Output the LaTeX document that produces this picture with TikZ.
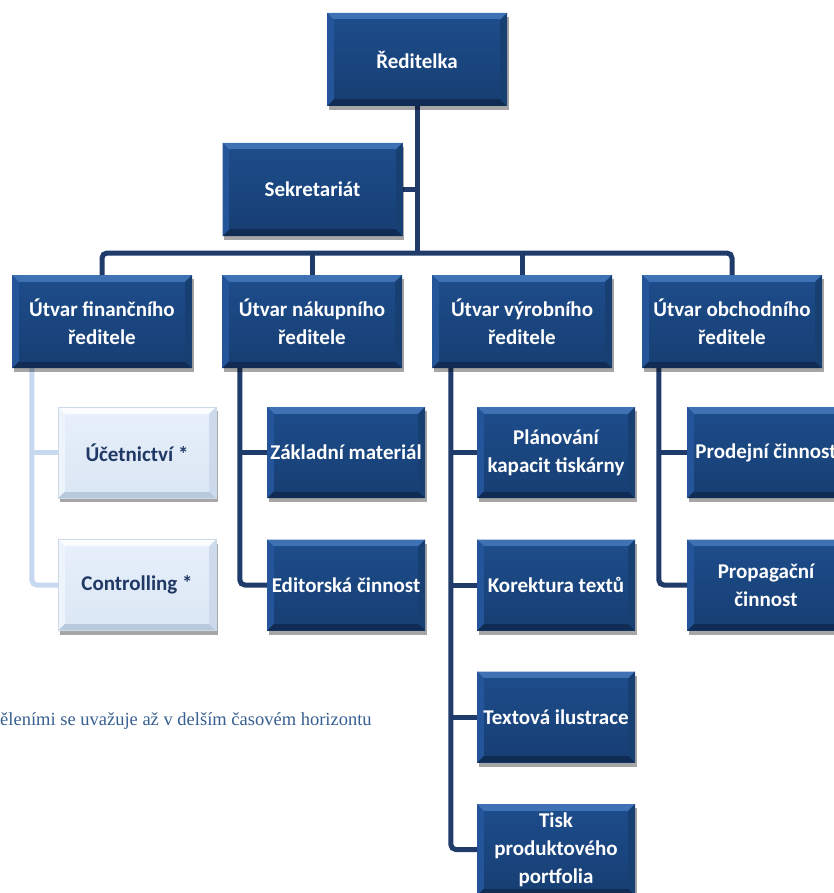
\documentclass[tikz,border=0pt]{standalone}
\usepackage{fontspec}
\setmainfont{Carlito}
\newfontfamily\footfont{Liberation Serif}
\usetikzlibrary{shadows,calc}
\definecolor{dkface}{HTML}{1D4C8A}
\definecolor{dkfacebot}{HTML}{173F74}
\definecolor{dktop}{HTML}{3F71B5}
\definecolor{dkbot}{HTML}{102C54}
\definecolor{dkleft}{HTML}{24559A}
\definecolor{dkright}{HTML}{183F72}
\definecolor{ltface}{HTML}{E6EFFA}
\definecolor{ltfacebot}{HTML}{DCE7F5}
\definecolor{lttop}{HTML}{FAFCFF}
\definecolor{ltbot}{HTML}{B8C8DD}
\definecolor{ltleft}{HTML}{EEF4FC}
\definecolor{ltright}{HTML}{CCDAEC}
\definecolor{conncol}{HTML}{1F3B69}
\definecolor{ltconn}{HTML}{C6D9F1}
\definecolor{lttext}{HTML}{1F3864}
\definecolor{foottext}{HTML}{365F91}
\pgfdeclarelayer{bg}
\pgfsetlayers{bg,main}
\newcommand\mybevel[6]{%
\fill[#1] (path picture bounding box.north west) -- (path picture bounding box.north east) -- ([xshift=-7pt,yshift=-7pt]path picture bounding box.north east) -- ([xshift=7pt,yshift=-7pt]path picture bounding box.north west) -- cycle;
\fill[#2] (path picture bounding box.south west) -- (path picture bounding box.south east) -- ([xshift=-7pt,yshift=7pt]path picture bounding box.south east) -- ([xshift=7pt,yshift=7pt]path picture bounding box.south west) -- cycle;
\fill[#3] (path picture bounding box.north west) -- (path picture bounding box.south west) -- ([xshift=7pt,yshift=7pt]path picture bounding box.south west) -- ([xshift=7pt,yshift=-7pt]path picture bounding box.north west) -- cycle;
\fill[#4] (path picture bounding box.north east) -- (path picture bounding box.south east) -- ([xshift=-7pt,yshift=7pt]path picture bounding box.south east) -- ([xshift=-7pt,yshift=-7pt]path picture bounding box.north east) -- cycle;
\shade[top color=#5,bottom color=#6] ([xshift=7pt,yshift=-7pt]path picture bounding box.north west) rectangle ([xshift=-7pt,yshift=7pt]path picture bounding box.south east);
}
\tikzset{
  boxbase/.style={rectangle, inner sep=0pt, align=center,
    font=\fontsize{21}{28}\selectfont\bfseries,
    drop shadow={shadow xshift=1.5pt, shadow yshift=-4pt, opacity=0.35, fill=black}},
  darkbox/.style={boxbase, minimum width=180pt, minimum height=93pt, text=white, fill=dkface,
    path picture={\mybevel{dktop}{dkbot}{dkleft}{dkright}{dkface}{dkfacebot}}},
  darksub/.style={darkbox, minimum width=158pt, minimum height=91pt},
  lightsub/.style={boxbase, minimum width=158pt, minimum height=91pt, text=lttext, fill=ltface,
    draw=ltbot!70, line width=0.5pt,
    path picture={\mybevel{lttop}{ltbot}{ltleft}{ltright}{ltface}{ltfacebot}}},
  conn/.style={draw=conncol, line width=5pt},
  lconn/.style={draw=ltconn, line width=5pt},
}
\begin{document}
\begin{tikzpicture}[x=1pt,y=1pt]
\useasboundingbox (0,0) rectangle (833,-893);
% top level
\node[darkbox] (red) at (417,-59.5) {Ředitelka};
\node[darkbox] (sek) at (312.5,-189.5) {Sekretariát};
% level 2
\node[darkbox] (fin) at (102,-321.5) {Útvar finančního\\ředitele};
\node[darkbox] (nak) at (312,-321.5) {Útvar nákupního\\ředitele};
\node[darkbox] (vyr) at (522,-321.5) {Útvar výrobního\\ředitele};
\node[darkbox] (obch) at (732,-321.5) {Útvar obchodního\\ředitele};
% financial children
\node[lightsub] (uct) at (137,-452.5) {Účetnictví *};
\node[lightsub] (ctrl) at (137,-585) {Controlling *};
% purchase children
\node[darksub] (zakl) at (346,-452.5) {Základní materiál};
\node[darksub] (edit) at (346,-585) {Editorská činnost};
% production children
\node[darksub] (plan) at (556,-452.5) {Plánování\\kapacit tiskárny};
\node[darksub] (kor) at (556,-585) {Korektura textů};
\node[darksub] (txt) at (556,-717) {Textová ilustrace};
\node[darksub] (tisk) at (556,-849.5) {Tisk\\produktového\\portfolia};
% sales children
\node[darksub] (prod) at (766,-452.5) {Prodejní činnost};
\node[darksub] (prop) at (766,-585) {Propagační\\činnost};
% footnote
\node[anchor=base west, inner sep=0pt, text=foottext, font=\footfont\fontsize{18.5}{22}\selectfont] (foot) at (0,-725) {ěleními se uvažuje až v delším časovém horizontu};
% connectors
\coordinate (bus) at (417,-253);
\coordinate (finv) at ([xshift=20pt]fin.south west);
\coordinate (nakv) at ([xshift=18pt]nak.south west);
\coordinate (vyrv) at ([xshift=19pt]vyr.south west);
\coordinate (obchv) at ([xshift=17pt]obch.south west);
\begin{pgfonlayer}{bg}
\draw[conn] (red.south) -- (bus);
\draw[conn] (sek.east) -- (sek.east -| bus);
\draw[conn, rounded corners=5pt] (fin.north) |- (bus) -| (obch.north);
\draw[conn] (nak.north) -- (nak.north |- bus);
\draw[conn] (vyr.north) -- (vyr.north |- bus);
\draw[lconn, rounded corners=5pt] (finv) |- (ctrl.west);
\draw[lconn] (uct.west -| finv) -- (uct.west);
\draw[conn, rounded corners=5pt] (nakv) |- (edit.west);
\draw[conn] (zakl.west -| nakv) -- (zakl.west);
\draw[conn, rounded corners=5pt] (vyrv) |- (tisk.west);
\draw[conn] (plan.west -| vyrv) -- (plan.west);
\draw[conn] (kor.west -| vyrv) -- (kor.west);
\draw[conn] (txt.west -| vyrv) -- (txt.west);
\draw[conn, rounded corners=5pt] (obchv) |- (prop.west);
\draw[conn] (prod.west -| obchv) -- (prod.west);
\end{pgfonlayer}
\end{tikzpicture}
\end{document}
